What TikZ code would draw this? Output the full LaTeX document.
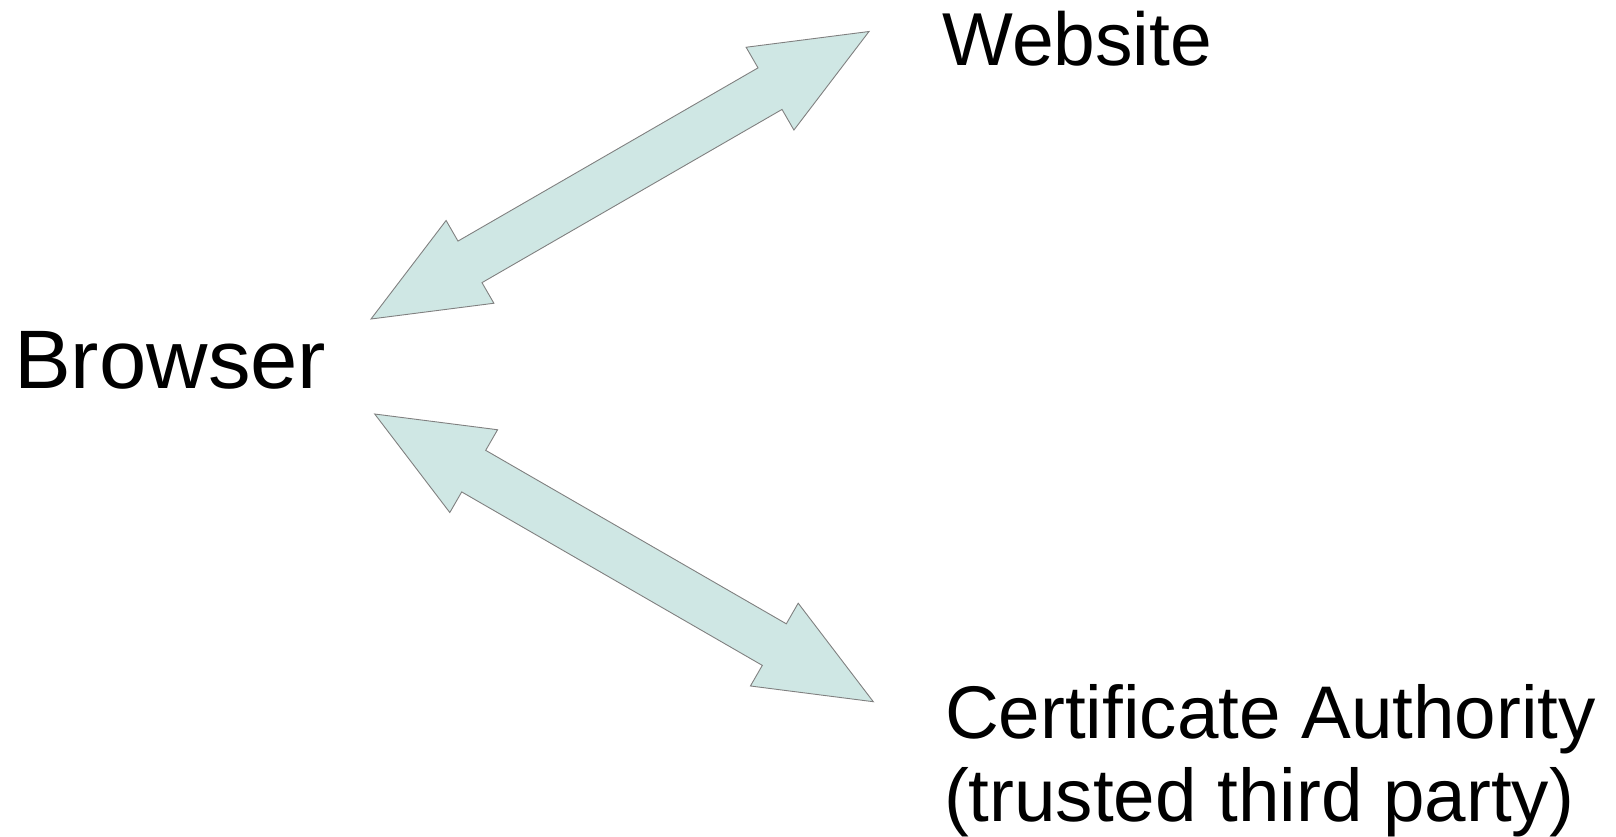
\documentclass[tikz,border=0pt]{standalone}
\usepackage{fontspec}
\setmainfont{Liberation Sans}
\usetikzlibrary{calc}
\definecolor{arrowfill}{RGB}{207,231,228}
\definecolor{arrowline}{RGB}{128,128,128}
\tikzset{
  lbl/.style={inner sep=0pt, outer sep=0pt, anchor=base west, text=black},
  blockarrow/.style={fill=arrowfill, draw=arrowline, line width=0.9pt, line join=miter},
}
% double block arrow between two named tip coordinates
\newcommand\blockdarrow[2]{%
  \draw[blockarrow]
    (#1)
    -- ($($(#1)!114.3pt!(#2)$)!47.8pt!90:(#2)$)
    -- ($($(#1)!114.3pt!(#2)$)!24pt!90:(#2)$)
    -- ($($(#2)!114.3pt!(#1)$)!24pt!-90:(#1)$)
    -- ($($(#2)!114.3pt!(#1)$)!47.8pt!-90:(#1)$)
    -- (#2)
    -- ($($(#2)!114.3pt!(#1)$)!47.8pt!90:(#1)$)
    -- ($($(#2)!114.3pt!(#1)$)!24pt!90:(#1)$)
    -- ($($(#1)!114.3pt!(#2)$)!24pt!-90:(#2)$)
    -- ($($(#1)!114.3pt!(#2)$)!47.8pt!-90:(#2)$)
    -- cycle;}
\begin{document}
\begin{tikzpicture}[x=1pt,y=-1pt]
  \useasboundingbox (0,0) rectangle (1616,836);
  % labels
  \node[lbl, font=\fontsize{75}{84}\selectfont] (web) at (942.6,65) {Website};
  \node[lbl, font=\fontsize{83}{92}\selectfont, xscale=1.025, transform shape] (brw) at (14.2,388.3) {Browser};
  \node[lbl, font=\fontsize{74.6}{84}\selectfont] (ca1) at (945,738.3) {Certificate Authority};
  \node[lbl, font=\fontsize{74.6}{84}\selectfont] (ca2) at (944,821.7) {(trusted third party)};
  % arrow tips
  \coordinate (bw) at (371,319);
  \coordinate (ww) at (869,31.5);
  \coordinate (bc) at (374.7,414);
  \coordinate (cc) at (873.3,701.7);
  \blockdarrow{bw}{ww}
  \blockdarrow{bc}{cc}
\end{tikzpicture}
\end{document}
